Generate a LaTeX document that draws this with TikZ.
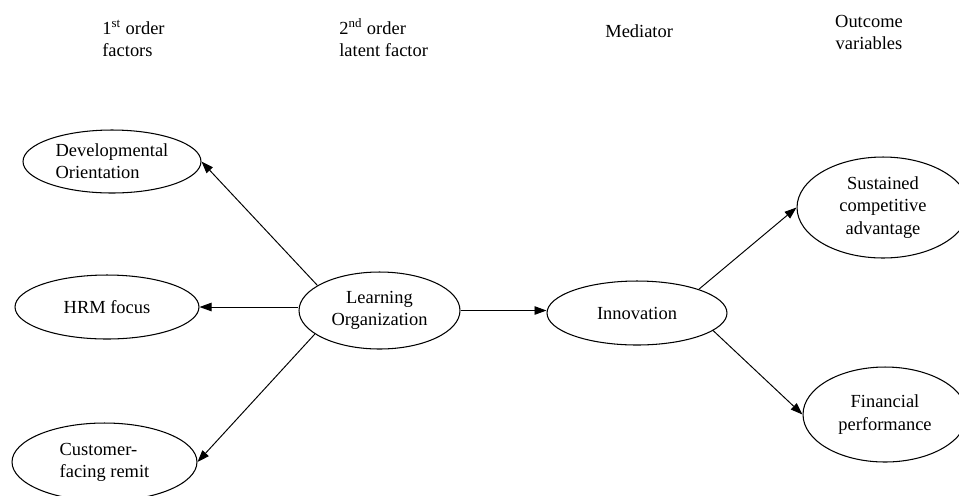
\documentclass[tikz,border=0pt]{standalone}
\usepackage{fontspec}
\setmainfont{Liberation Serif}
\usetikzlibrary{shapes.geometric,arrows.meta}
\begin{document}
\begin{tikzpicture}[x=0.02cm, y=-0.02cm,
  font=\fontsize{10.5}{12.6}\selectfont,
  factor/.style={ellipse, draw, line width=0.6pt, inner sep=0pt},
  link/.style={-{Triangle[length=0.24cm,width=0.17cm]}, line width=0.55pt},
  head/.style={inner sep=0pt}]
  \clip (0,0) rectangle (959,495);

  % column headings
  \node[head, anchor=north west, align=left] (hfirst) at (102,20) {1\textsuperscript{st} order\\factors};
  \node[head, anchor=north west, align=left] (hsecond) at (339,18) {2\textsuperscript{nd} order\\latent factor};
  \node[head, anchor=base west] (hmed) at (605,37) {Mediator};
  \node[head, anchor=north, align=center] (hout) at (869,15) {Outcome\\variables};

  % 1st order factors
  \node[factor, minimum width=3.56cm, minimum height=1.26cm, align=left] (dev) at (112,161.5) {Developmental\\Orientation};
  \node[factor, minimum width=3.68cm, minimum height=1.28cm] (hrm) at (107,307) {HRM focus};
  \node[factor, minimum width=3.70cm, minimum height=1.56cm, align=left] (cust) at (104.5,462) {Customer-\\facing remit};

  % 2nd order factor and mediator
  \node[factor, minimum width=3.22cm, minimum height=1.54cm, align=center] (lo) at (379.5,310.5) {Learning\\Organization};
  \node[factor, minimum width=3.60cm, minimum height=1.28cm] (inn) at (637,313) {Innovation};

  % outcomes
  \node[factor, minimum width=3.44cm, minimum height=2.02cm, align=center] (sca) at (883,207.5) {Sustained\\competitive\\advantage};
  \node[factor, minimum width=3.28cm, minimum height=1.90cm, align=center] (fp) at (885,414.5) {Financial\\performance};

  % paths
  \draw[link] (lo.158) -- (dev.east);
  \draw[link] (lo.west |- hrm.east) -- (hrm.east);
  \draw[link] (lo.200) -- (cust.east);
  \draw[link] (lo.east) -- (lo.east -| inn.west);
  \draw[link] (inn.21) -- (sca.west);
  \draw[link] (inn.347) -- (fp.west);
\end{tikzpicture}
\end{document}
